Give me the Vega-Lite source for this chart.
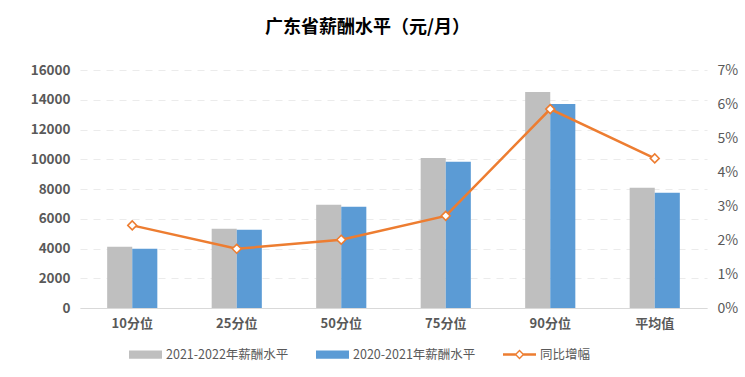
{
  "$schema": "https://vega.github.io/schema/vega-lite/v6.json",
  "width": 627,
  "height": 238,
  "autosize": "none",
  "padding": {"left": 80, "top": 70, "right": 38, "bottom": 69},
  "background": "white",
  "config": {
    "font": "Noto Sans CJK SC",
    "view": {"stroke": null},
    "legend": {"symbolSize": 1089}
  },
  "title": {
    "text": "广东省薪酬水平（元/月）",
    "fontSize": 18,
    "fontWeight": "bold",
    "color": "#000000",
    "anchor": "middle",
    "dx": -26,
    "offset": 26
  },
  "datasets": {
    "bars": [
      {"cat": "10分位", "series": "2021-2022年薪酬水平", "value": 4117},
      {"cat": "10分位", "series": "2020-2021年薪酬水平", "value": 3983},
      {"cat": "25分位", "series": "2021-2022年薪酬水平", "value": 5326},
      {"cat": "25分位", "series": "2020-2021年薪酬水平", "value": 5259},
      {"cat": "50分位", "series": "2021-2022年薪酬水平", "value": 6937},
      {"cat": "50分位", "series": "2020-2021年薪酬水平", "value": 6803},
      {"cat": "75分位", "series": "2021-2022年薪酬水平", "value": 10092},
      {"cat": "75分位", "series": "2020-2021年薪酬水平", "value": 9824},
      {"cat": "90分位", "series": "2021-2022年薪酬水平", "value": 14523},
      {"cat": "90分位", "series": "2020-2021年薪酬水平", "value": 13718},
      {"cat": "平均值", "series": "2021-2022年薪酬水平", "value": 8078},
      {"cat": "平均值", "series": "2020-2021年薪酬水平", "value": 7743}
    ],
    "growth": [
      {"cat": "10分位", "rate": 0.0243},
      {"cat": "25分位", "rate": 0.0174},
      {"cat": "50分位", "rate": 0.0201},
      {"cat": "75分位", "rate": 0.0271},
      {"cat": "90分位", "rate": 0.0585},
      {"cat": "平均值", "rate": 0.0440}
    ]
  },
  "layer": [
    {
      "data": {"name": "bars"},
      "mark": {"type": "bar"},
      "encoding": {
        "x": {
          "field": "cat",
          "type": "nominal",
          "sort": ["10分位", "25分位", "50分位", "75分位", "90分位", "平均值"],
          "scale": {"paddingInner": 0.52, "paddingOuter": 0.26},
          "axis": {
            "title": null,
            "labelAngle": 0,
            "labelFontSize": 13,
            "labelFontWeight": "bold",
            "labelColor": "#595959",
            "labelPadding": 9,
            "ticks": false,
            "domainColor": "#D9D9D9",
            "domainWidth": 1
          }
        },
        "xOffset": {
          "field": "series",
          "type": "nominal",
          "sort": ["2021-2022年薪酬水平", "2020-2021年薪酬水平"],
          "scale": {"paddingInner": 0, "paddingOuter": 0}
        },
        "y": {
          "field": "value",
          "type": "quantitative",
          "scale": {"domain": [0, 16000], "nice": false},
          "axis": {
            "title": null,
            "values": [0, 2000, 4000, 6000, 8000, 10000, 12000, 14000, 16000],
            "format": "d",
            "labelFontSize": 13.5,
            "labelFontWeight": "bold",
            "labelColor": "#595959",
            "labelPadding": 10,
            "ticks": false,
            "domain": false,
            "gridColor": "#EBEBEB",
            "gridDash": [7, 6],
            "gridWidth": 1
          }
        },
        "color": {
          "field": "series",
          "type": "nominal",
          "scale": {
            "domain": ["2021-2022年薪酬水平", "2020-2021年薪酬水平", "同比增幅"],
            "range": ["#BFBFBF", "#5B9BD5", "#ED7D31"]
          },
          "legend": {
            "title": null,
            "orient": "none",
            "legendX": 49,
            "legendY": 268,
            "direction": "horizontal",
            "columns": 3,
            "columnPadding": 27,
            "padding": 0,
            "labelFontSize": 12.5,
            "labelColor": "#595959",
            "labelOffset": 4,
            "symbolSize": 1089,
            "symbolStrokeWidth": 0,
            "symbolOpacity": 1,
            "labelLimit": 300,
            "encode": {
              "symbols": {
                "update": {
                  "size": {"value": 1089},
                  "strokeWidth": {"value": 0},
                  "shape": {"signal": "datum.value === '同比增幅' ? 'M-1,-0.075H-0.24V0.075H-1ZM0.24,-0.075H1V0.075H0.24ZM0,-0.3L0.3,0L0,0.3L-0.3,0ZM0,-0.18L-0.18,0L0,0.18L0.18,0Z' : 'M-1,-0.25H1V0.25H-1Z'"},
                  "fill": {"signal": "scale('color', datum.value)"},
                  "opacity": {"value": 1},
                  "fillOpacity": {"value": 1}
                }
              }
            }
          }
        }
      }
    },
    {
      "data": {"name": "growth"},
      "encoding": {
        "x": {"field": "cat", "type": "nominal", "sort": ["10分位", "25分位", "50分位", "75分位", "90分位", "平均值"]},
        "y": {
          "field": "rate",
          "type": "quantitative",
          "scale": {"domain": [0, 0.07], "nice": false},
          "axis": {
            "title": null,
            "orient": "right",
            "values": [0, 0.01, 0.02, 0.03, 0.04, 0.05, 0.06, 0.07],
            "format": ".0%",
            "labelFontSize": 14,
            "labelColor": "#595959",
            "labelPadding": 10,
            "labelOverlap": false,
            "labelBound": false,
            "labelFlush": false,
            "ticks": false,
            "domain": false,
            "grid": false
          }
        }
      },
      "layer": [
        {
          "mark": {"type": "line", "strokeWidth": 2.5},
          "encoding": {
            "color": {"datum": "同比增幅", "type": "nominal"}
          }
        },
        {
          "mark": {"type": "point", "shape": "diamond", "filled": true, "fill": "#FFFFFF", "stroke": "#ED7D31", "strokeWidth": 1.5, "size": 80, "opacity": 1},
          "encoding": {}
        }
      ]
    }
  ],
  "resolve": {"scale": {"y": "independent"}}
}
